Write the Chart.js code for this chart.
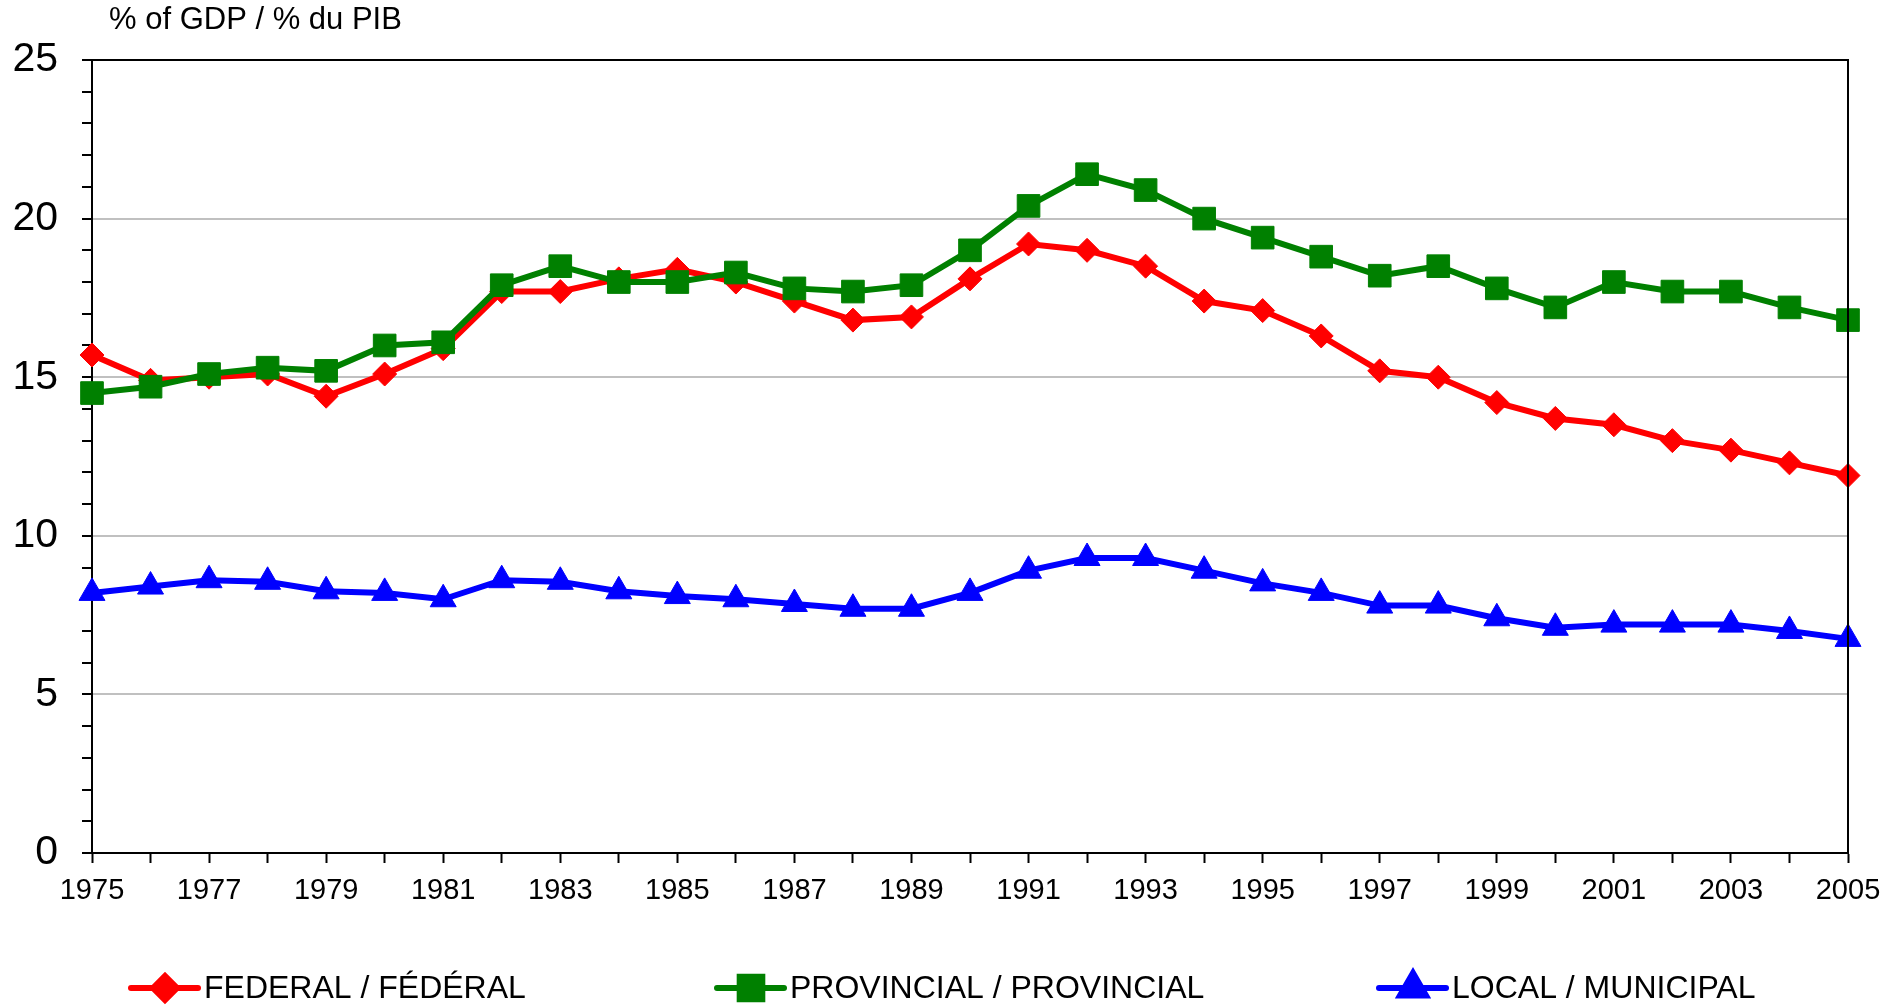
<!DOCTYPE html>
<html>
<head>
<meta charset="utf-8">
<script src="https://cdn.jsdelivr.net/npm/chart.js@4"></script>
<style>
  html, body { margin: 0; padding: 0; background: #fff; }
  canvas { display: block; }
</style>
</head>
<body>
<canvas id="chart" width="1902" height="1005"></canvas>
<script>
// Government spending by level, % of GDP
const years = [];
for (let y = 1975; y <= 2005; y++) years.push(String(y));

const federal = [15.7, 14.9, 15.0, 15.1, 14.4, 15.1, 15.9, 17.7, 17.7, 18.1,
                 18.4, 18.0, 17.4, 16.8, 16.9, 18.1, 19.2, 19.0, 18.5, 17.4,
                 17.1, 16.3, 15.2, 15.0, 14.2, 13.7, 13.5, 13.0, 12.7, 12.3, 11.9];
const provincial = [14.5, 14.7, 15.1, 15.3, 15.2, 16.0, 16.1, 17.9, 18.5, 18.0,
                    18.0, 18.3, 17.8, 17.7, 17.9, 19.0, 20.4, 21.4, 20.9, 20.0,
                    19.4, 18.8, 18.2, 18.5, 17.8, 17.2, 18.0, 17.7, 17.7, 17.2, 16.8];
const local = [8.2, 8.4, 8.6, 8.55, 8.25, 8.2, 8.0, 8.6, 8.55, 8.25,
               8.1, 8.0, 7.85, 7.7, 7.7, 8.2, 8.9, 9.3, 9.3, 8.9,
               8.5, 8.2, 7.8, 7.8, 7.4, 7.1, 7.2, 7.2, 7.2, 7.0, 6.75];

const seriesLabels = ['FEDERAL / FÉDÉRAL', 'PROVINCIAL / PROVINCIAL', 'LOCAL / MUNICIPAL'];
const yTitle = '% of GDP / % du PIB';

const FONT = "'Liberation Sans', Arial, sans-serif";

// legend item left edges (px)
const legendX = [131, 717, 1379];

// title above the axis + legend row under the x labels
const extrasPlugin = {
    id: 'extras',
    afterDraw: function(chart) {
        const ctx = chart.ctx;
        const area = chart.chartArea;
        ctx.save();

        // top and right frame
        ctx.strokeStyle = '#000';
        ctx.lineWidth = 2;
        ctx.beginPath();
        ctx.moveTo(area.left, area.top);
        ctx.lineTo(area.right, area.top);
        ctx.lineTo(area.right, area.bottom);
        ctx.stroke();

        // axis title
        ctx.fillStyle = '#000';
        ctx.font = '31px ' + FONT;
        ctx.textBaseline = 'top';
        ctx.textAlign = 'left';
        ctx.fillText(yTitle, 109, 5);

        // legend
        ctx.font = '32px ' + FONT;
        ctx.textBaseline = 'middle';
        const y = 988;
        chart.data.datasets.forEach((ds, i) => {
            const x = legendX[i];
            ctx.strokeStyle = ds.borderColor;
            ctx.lineWidth = ds.borderWidth;
            ctx.lineCap = 'round';
            ctx.beginPath();
            ctx.moveTo(x, y);
            ctx.lineTo(x + 67, y);
            ctx.stroke();
            ctx.fillStyle = ds.backgroundColor;
            Chart.helpers.drawPoint(ctx, {
                pointStyle: ds.pointStyle,
                rotation: 0,
                borderWidth: 1,
                radius: ds.pointRadius
            }, x + 34, y);
            ctx.fillStyle = '#000';
            ctx.fillText(ds.label, x + 73, y + 1);
        });
        ctx.restore();
    }
};

function series(label, data, color, style, radius, order) {
    return {
        label: label,
        data: data,
        borderColor: color,
        backgroundColor: color,
        borderWidth: 6,
        pointStyle: style,
        pointRadius: radius,
        pointBorderWidth: 1,
        pointHoverRadius: radius,
        tension: 0,
        clip: false,
        order: order
    };
}

new Chart(document.getElementById('chart'), {
    type: 'line',
    data: {
        labels: years,
        datasets: [
            series(seriesLabels[0], federal, '#ff0000', 'rectRot', 12, 3),
            series(seriesLabels[1], provincial, '#008000', 'rect', 16, 2),
            series(seriesLabels[2], local, '#0000ff', 'triangle', 15, 1)
        ]
    },
    options: {
        responsive: false,
        animation: false,
        events: [],
        layout: { padding: { left: 0, right: 54, top: 60, bottom: 0 } },
        plugins: {
            legend: { display: false },
            tooltip: { enabled: false }
        },
        scales: {
            x: {
                offset: false,
                border: { color: '#000', width: 2 },
                grid: {
                    drawOnChartArea: false,
                    tickColor: '#000',
                    tickLength: 10,
                    tickWidth: 2
                },
                ticks: {
                    autoSkip: false,
                    maxRotation: 0,
                    padding: 11,
                    color: '#000',
                    font: { family: FONT, size: 29 },
                    callback: function(value, index) {
                        return index % 2 === 0 ? this.getLabelForValue(value) : '';
                    }
                },
                afterFit: function(scale) { scale.height = 152; }
            },
            y: {
                min: 0,
                max: 25,
                border: { color: '#000', width: 2 },
                grid: {
                    color: function(c) {
                        const v = c.tick.value;
                        return (v % 5 === 0 && v > 0 && v < 25) ? '#c0c0c0' : 'rgba(0,0,0,0)';
                    },
                    lineWidth: 2,
                    tickColor: '#000',
                    tickLength: 10,
                    tickWidth: 2
                },
                ticks: {
                    stepSize: 1,
                    autoSkip: false,
                    padding: 24,
                    color: '#000',
                    font: { family: FONT, size: 41 },
                    callback: function(value) {
                        return value % 5 === 0 ? value : '';
                    }
                },
                afterFit: function(scale) { scale.width = 92; }
            }
        }
    },
    plugins: [extrasPlugin]
});
</script>
</body>
</html>
